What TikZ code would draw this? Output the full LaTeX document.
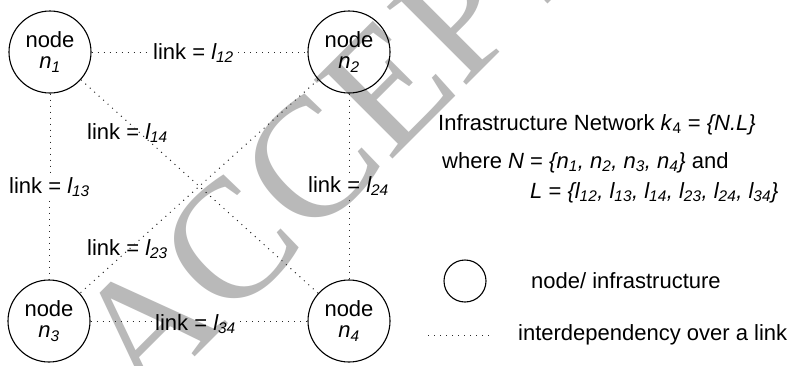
\documentclass[tikz,border=0pt]{standalone}
\usepackage{fontspec}
\setmainfont{Liberation Sans}
\newfontfamily\wmfont{Liberation Serif}
\definecolor{wmgray}{RGB}{185,185,185}
\definecolor{dotcol}{RGB}{40,40,40}
\begin{document}
\begin{tikzpicture}[x=1pt,y=-1pt,
  every node/.style={font=\fontsize{22}{21}\selectfont},
  netnode/.style={draw, circle, line width=1.1pt, minimum size=82pt, inner sep=0pt, align=center},
  legcircle/.style={draw, circle, line width=1.1pt, minimum size=42pt, inner sep=0pt},
  linklabel/.style={anchor=base west, inner sep=4pt},
  txt/.style={anchor=base west, inner sep=0pt},
  linkline/.style={draw=dotcol, line width=1pt, dash pattern=on 1pt off 5pt}]
\fill[white] (0,0) rectangle (798,365);
\useasboundingbox (0,0) rectangle (798,365);
% watermark
\begin{scope}
\clip (0,0) rectangle (798,365);
\node[anchor=base west, rotate=45, inner sep=0pt, text=wmgray, font=\fontsize{170}{170}\wmfont] (wm) at (142,410) {ACCEPTED MANUSCRIPT};
\end{scope}
% nodes
\node[netnode] (n1) at (50,52) {node\\\textit{n\textsubscript{1}}};
\node[netnode] (n2) at (349,52) {node\\\textit{n\textsubscript{2}}};
\node[netnode] (n3) at (49,321) {node\\\textit{n\textsubscript{3}}};
\node[netnode] (n4) at (349,321) {node\\\textit{n\textsubscript{4}}};
% link labels
\node[linklabel] (l12) at (149,59) {link = \textit{l\textsubscript{12}}};
\node[linklabel] (l34) at (151,330) {link = \textit{l\textsubscript{34}}};
\node[linklabel] (l13) at (5,193) {link = \textit{l\textsubscript{13}}};
\node[linklabel] (l24) at (304,192) {link = \textit{l\textsubscript{24}}};
\node[linklabel] (l14) at (83,139) {link = \textit{l\textsubscript{14}}};
\node[linklabel] (l23) at (83,255) {link = \textit{l\textsubscript{23}}};
% links
\draw[linkline] (n1.east) -- (n1.east -| l12.west);
\draw[linkline] (n2.west -| l12.east) -- (n2.west);
\draw[linkline] (n3.east) -- (n3.east -| l34.west);
\draw[linkline] (n4.west -| l34.east) -- (n4.west);
\draw[linkline] (n1.south) -- (n1.south |- l13.north);
\draw[linkline] (n3.north |- l13.south) -- (n3.north);
\draw[linkline] (n2.south) -- (n2.south |- l24.north);
\draw[linkline] (n4.north |- l24.south) -- (n4.north);
\draw[linkline] (n1) -- (n4);
\draw[linkline] (n2) -- (n3);
% description
\node[txt] (title) at (438,130) {Infrastructure Network \textit{k}\textsubscript{4} = \textit{\{N.L\}}};
\node[txt] (whereN) at (442,168) {where \textit{N} = \textit{\{n\textsubscript{1}, n\textsubscript{2}, n\textsubscript{3}, n\textsubscript{4}\}} and};
\node[txt] (setL) at (530,198) {\textit{L} = \textit{\{l\textsubscript{12}, l\textsubscript{13}, l\textsubscript{14}, l\textsubscript{23}, l\textsubscript{24}, l\textsubscript{34}\}}};
% legend
\node[legcircle] (legnode) at (465,281) {};
\node[txt] (legnodetxt) at (531,288) {node/ infrastructure};
\coordinate (legA) at (428,335);
\coordinate (legB) at (492,335);
\draw[linkline] (legA) -- (legB);
\node[txt] (leglinktxt) at (518,340) {interdependency over a link};
\end{tikzpicture}
\end{document}
